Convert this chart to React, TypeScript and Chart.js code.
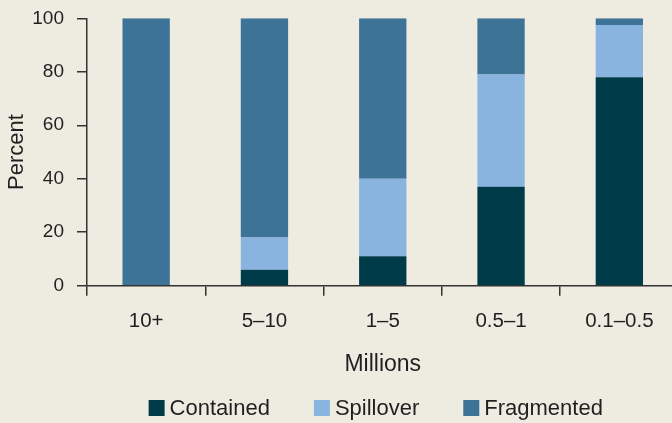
import React, { useEffect, useRef } from 'react';
import { Chart, registerables } from 'chart.js';

Chart.register(...registerables);

const categories = ['10+', '5–10', '1–5', '0.5–1', '0.1–0.5'];
const contained = [0, 6, 11, 37, 78];
const spillover = [0, 12, 29, 42, 19.5];
const fragmented = [100, 82, 60, 21, 2.5];
const yTicks = [0, 20, 40, 60, 80, 100];
const seriesNames = ['Contained', 'Spillover', 'Fragmented'];
const seriesColors = ['#003b49', '#8ab4e0', '#3e7398'];
const xTitle = 'Millions';
const yTitle = 'Percent';

const BG = '#eeebe1';
const TEXT = '#231f20';
const AXIS = '#333333';
const FONT = '"Liberation Sans", Arial, Helvetica, sans-serif';

const legendPlugin = {
  id: 'customLegend',
  afterDraw(chart: any) {
    const ctx = chart.ctx;
    ctx.save();
    ctx.font = `22px ${FONT}`;
    const box = 16;
    const gap = 5;
    const spacing = 44;
    const items = chart.data.datasets.map((ds: any) => ({
      label: ds.label,
      color: ds.backgroundColor,
      w: box + gap + ctx.measureText(ds.label).width,
    }));
    const total = items.reduce((s: number, it: any) => s + it.w, 0) + spacing * (items.length - 1);
    const cx = (chart.chartArea.left + chart.chartArea.right) / 2 - 7;
    let x = cx - total / 2;
    const boxTop = 400;
    const baseline = 415;
    for (const it of items) {
      ctx.fillStyle = it.color;
      ctx.fillRect(x, boxTop, box, box);
      ctx.fillStyle = TEXT;
      ctx.textBaseline = 'alphabetic';
      ctx.textAlign = 'left';
      ctx.fillText(it.label, x + box + gap, baseline);
      x += it.w + spacing;
    }
    ctx.restore();
  },
};

export default function App() {
  const ref = useRef<HTMLCanvasElement | null>(null);

  useEffect(() => {
    if (!ref.current) return;
    const seriesData = [contained, spillover, fragmented];
    const chart = new Chart(ref.current, {
      type: 'bar',
      data: {
        labels: categories,
        datasets: seriesNames.map((name, i) => ({
          label: name,
          data: seriesData[i],
          backgroundColor: seriesColors[i],
          borderWidth: 0,
          barPercentage: 0.4,
          categoryPercentage: 1,
        })),
      },
      options: {
        responsive: false,
        animation: false,
        devicePixelRatio: 1,
        layout: { padding: { left: 0, top: 18.3, right: 1.5, bottom: 45 } },
        plugins: {
          legend: { display: false },
          tooltip: { enabled: false },
        },
        scales: {
          x: {
            stacked: true,
            afterFit: (scale: any) => {
              scale.height = 92.3;
            },
            grid: {
              offset: true,
              drawOnChartArea: false,
              drawTicks: true,
              tickLength: 10,
              color: AXIS,
              lineWidth: 1.5,
            },
            border: { display: true, color: AXIS, width: 1.5 },
            ticks: {
              padding: 13,
              color: TEXT,
              font: { size: 20.5, family: FONT },
              maxRotation: 0,
            },
            title: {
              display: true,
              text: xTitle,
              color: TEXT,
              font: { size: 23, family: FONT },
              padding: { top: 19, bottom: 0 },
            },
          },
          y: {
            stacked: true,
            min: 0,
            max: 100,
            afterFit: (scale: any) => {
              scale.width = 87;
              scale.paddingTop = 0;
              scale.paddingBottom = 0;
            },
            afterBuildTicks: (axis: any) => {
              axis.ticks = yTicks.map((v) => ({ value: v }));
            },
            grid: {
              drawOnChartArea: false,
              drawTicks: true,
              tickLength: 10,
              color: AXIS,
              lineWidth: 1.5,
            },
            border: { display: true, color: AXIS, width: 1.5 },
            ticks: {
              padding: 13,
              color: TEXT,
              font: { size: 19, family: FONT },
            },
            title: {
              display: true,
              text: yTitle,
              color: TEXT,
              font: { size: 22, family: FONT },
              padding: { top: 3.5, bottom: 2 },
            },
          },
        },
      },
      plugins: [legendPlugin],
    });
    return () => chart.destroy();
  }, []);

  return (
    <div
      style={{
        position: 'fixed',
        left: 0,
        top: 0,
        width: 672,
        height: 423,
        overflow: 'hidden',
        background: BG,
      }}
    >
      <canvas ref={ref} width={680} height={423} style={{ display: 'block' }} />
    </div>
  );
}
